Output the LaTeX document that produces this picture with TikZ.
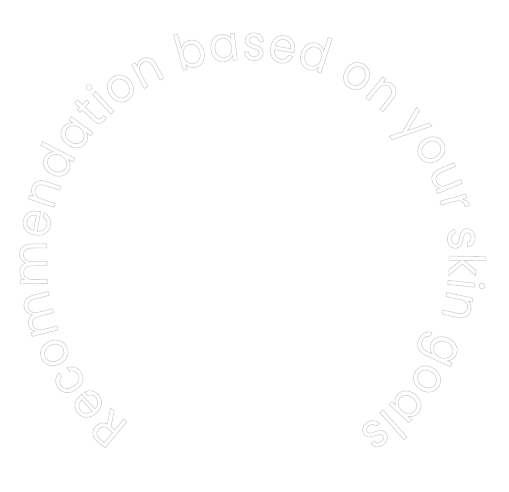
\documentclass[tikz,border=0pt]{standalone}
\usepackage{fontspec}
\setmainfont{Poppins}
\newfontfamily\ringfont[FakeStretch=0.92]{Poppins}
\usetikzlibrary{decorations.text}
\newcommand\hollowon{\special{pdf:literal 2 Tr 0.6 w 0.82 G 1 g}}
\tikzset{
  ringtext/.style={decorate, decoration={text along path,
      text={|\ringfont\fontsize{49}{49}\selectfont\hollowon|Recommendation based on your skin goals},
      text align=fit to path}}
}

\begin{document}
\begin{tikzpicture}[x=1pt, y=1pt]
        \useasboundingbox (0,0) rectangle (509,491);
        \coordinate (ctr) at (248,230);
        \path[ringtext] (ctr) ++(234:201) arc[start angle=234, end angle=-57, radius=201];
      \end{tikzpicture}
\end{document}
